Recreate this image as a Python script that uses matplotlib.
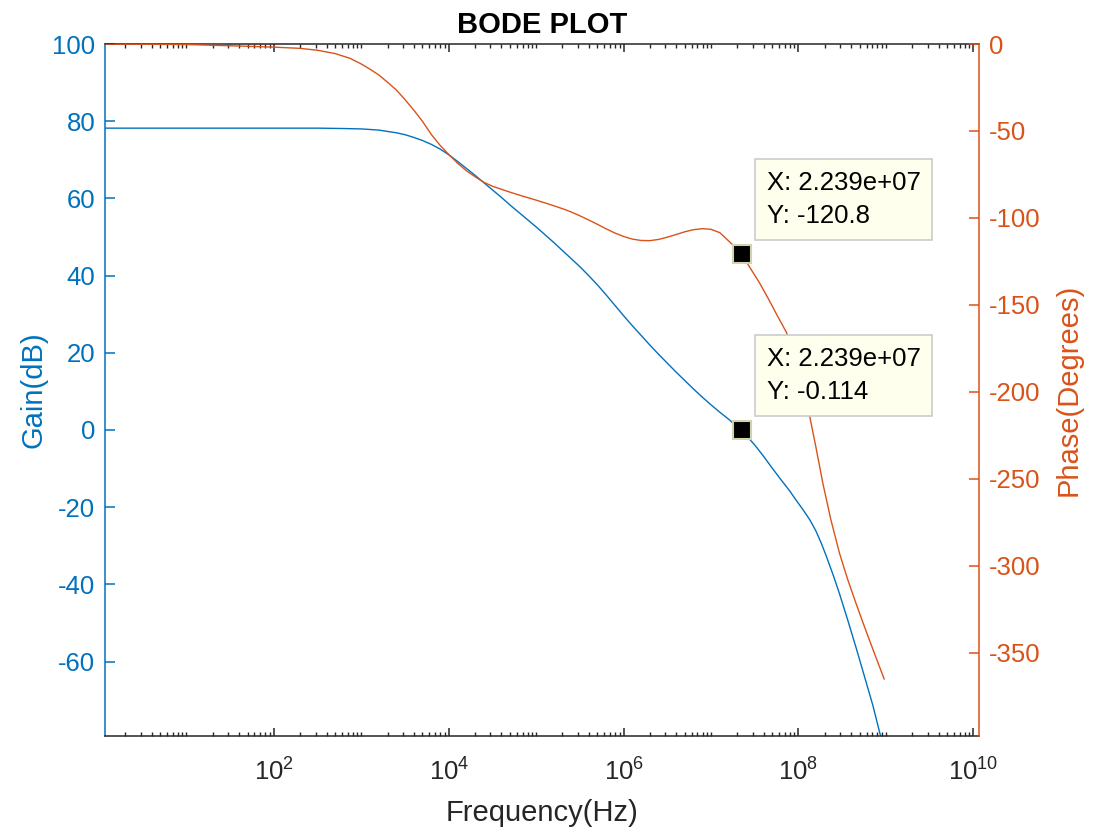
import numpy as np
import matplotlib
matplotlib.use('Agg')
import matplotlib.pyplot as plt
from matplotlib.ticker import LogLocator, NullFormatter

plt.rcParams['font.family'] = ['Liberation Sans', 'DejaVu Sans']
plt.rcParams['mathtext.default'] = 'regular'
plt.rcParams['axes.unicode_minus'] = False

# Gain curve (log10 of frequency in Hz, dB)
gain_exp = [0.0, 1.0, 2.0, 2.5, 2.8, 3.0, 3.2, 3.4, 3.5, 3.6, 3.7, 3.8, 3.9,
            4.0, 4.1, 4.2, 4.3, 4.4, 4.5, 4.6, 4.7, 4.8, 4.9, 5.0, 5.1, 5.2,
            5.3, 5.4, 5.5, 5.6, 5.7, 5.8, 5.9, 6.0, 6.1, 6.2, 6.3, 6.4, 6.5,
            6.6, 6.7, 6.8, 6.9, 7.0, 7.1, 7.2, 7.35, 7.5, 7.6, 7.7, 7.8, 7.9,
            7.97, 8.05, 8.13, 8.2, 8.26, 8.32, 8.4, 8.47, 8.56, 8.66, 8.75,
            8.85, 8.93, 9.0]
gain_db = [78.2, 78.2, 78.2, 78.2, 78.1, 78.0, 77.7, 77.0, 76.5, 75.8, 75.0, 74.0, 72.8,
           71.3, 69.6, 67.8, 66.0, 64.1, 62.2, 60.3, 58.3, 56.4, 54.5, 52.6, 50.6, 48.6,
           46.5, 44.4, 42.3, 40.0, 37.6, 35.0, 32.3, 29.6, 27.0, 24.5, 22.0, 19.6, 17.3,
           15.0, 12.8, 10.6, 8.5, 6.5, 4.6, 2.8, -0.114, -3.9, -6.8, -9.9, -12.9, -15.8,
           -18.1, -20.6, -23.3, -26.2, -29.3, -32.8, -37.8, -42.5, -49.0, -56.5, -63.5,
           -71.3, -78.5, -84.0]

# Phase curve (log10 of frequency in Hz, degrees)
phase_exp = [0.0, 1.0, 1.5, 2.0, 2.3, 2.5, 2.7, 2.87, 3.0, 3.1, 3.2, 3.3, 3.4,
             3.5, 3.6, 3.7, 3.8, 3.9, 4.0, 4.1, 4.2, 4.3, 4.4, 4.5, 4.6, 4.7,
             4.8, 4.9, 5.0, 5.1, 5.2, 5.3, 5.4, 5.5, 5.6, 5.7, 5.8, 5.9, 6.0,
             6.1, 6.2, 6.3, 6.4, 6.5, 6.6, 6.7, 6.8, 6.9, 7.0, 7.1, 7.2, 7.28,
             7.35, 7.44, 7.55, 7.65, 7.75, 7.86, 7.95, 8.05, 8.13, 8.2, 8.28,
             8.37, 8.47, 8.56, 8.66, 8.75, 8.85, 8.98]
phase_deg = [0.0, -0.3, -1.0, -1.8, -2.5, -3.6, -5.5, -8.2, -11.5, -14.5, -17.8, -22.0, -26.4,
             -32.0, -38.0, -44.5, -52.0, -58.2, -63.5, -68.5, -72.8, -76.3, -79.5, -81.8, -83.5, -85.2,
             -86.8, -88.3, -89.8, -91.4, -93.0, -94.7, -96.6, -98.8, -101.2, -103.7, -106.3, -108.7, -110.7,
             -112.2, -113.0, -113.1, -112.4, -111.1, -109.6, -108.0, -106.8, -106.2, -106.6, -108.5, -113.2, -117.0,
             -120.8, -128.2, -137.0, -146.0, -155.5, -165.6, -178.0, -197.0, -214.5, -232.0, -252.9,
             -273.5, -293.0, -307.5, -322.0, -334.5, -348.0, -365.2]

# data tips
tip_freq = 2.239e7
tip_gain = -0.114
tip_phase = -120.8

blue = '#0072BD'
orange = '#D95319'
dark = '#262626'

gain_f = 10 ** np.array(gain_exp)
phase_f = 10 ** np.array(phase_exp)

fig = plt.figure(figsize=(10.97, 8.32), dpi=100)
ax = fig.add_axes([0.0957, 0.1154, 0.797, 0.8317])
ax2 = ax.twinx()

ax.semilogx(gain_f, gain_db, color=blue, lw=1.0)
ax2.semilogx(phase_f, phase_deg, color=orange, lw=1.0)

ax.set_xlim(1.17, 1.17e10)
ax.set_ylim(-79.3, 100)
ax2.set_ylim(-398, 0)

ax.set_xticks([1e2, 1e4, 1e6, 1e8, 1e10])
ax.set_xticklabels(['$10^{2}$', '$10^{4}$', '$10^{6}$', '$10^{8}$', '$10^{10}$'])
ax.xaxis.set_minor_locator(LogLocator(base=10, subs=np.arange(1, 10), numticks=100))
ax.xaxis.set_minor_formatter(NullFormatter())
ax.set_yticks(np.arange(-60, 101, 20))
ax2.set_yticks(np.arange(-350, 1, 50))

ax.tick_params(axis='x', which='major', direction='in', top=True, length=6, width=1.1,
               colors=dark, labelsize=18.5, pad=16)
ax.tick_params(axis='x', which='minor', direction='in', top=True, length=3, width=1.0,
               colors=dark)
ax.tick_params(axis='y', direction='in', length=7, width=1.1, colors=blue,
               labelsize=18.5, pad=7)
ax2.tick_params(axis='y', direction='in', length=7, width=1.1, colors=orange,
                labelsize=18.5, pad=7)

for s in ['top', 'bottom']:
    ax.spines[s].set_color(dark)
    ax.spines[s].set_linewidth(1.1)
    ax2.spines[s].set_visible(False)
ax.spines['left'].set_color(blue)
ax.spines['left'].set_linewidth(1.1)
ax.spines['right'].set_visible(False)
ax2.spines['left'].set_visible(False)
ax2.spines['right'].set_color(orange)
ax2.spines['right'].set_linewidth(1.1)

ax.set_xlabel('Frequency(Hz)', fontsize=21, color=dark, labelpad=10)
ax.set_ylabel('Gain(dB)', fontsize=21, color=blue, labelpad=3)
ax2.set_ylabel('Phase(Degrees)', fontsize=21, color=orange, labelpad=10)
ax.set_title('BODE PLOT', fontsize=21, fontweight='bold', color='black', pad=8)

# data tip markers and boxes (on the top axes so they cover the curves)
ax.plot([tip_freq], [tip_gain], 's', color='black', ms=13, mec='#D2D2AC', mew=1.5, zorder=5)
ax2.plot([tip_freq], [tip_phase], 's', color='black', ms=13, mec='#D2D2AC', mew=1.5, zorder=5)

box = dict(boxstyle='square,pad=0.45', fc='#FFFFEE', ec='#CCCCCC', lw=1.2)
ax2.annotate(f'X: {tip_freq:.4g}\nY: {tip_phase:.4g}', xy=(tip_freq, tip_phase),
             xytext=(25, 26), textcoords='offset pixels', ha='left', va='bottom',
             fontsize=18.5, bbox=box, linespacing=1.5, zorder=6)
ax2.annotate(f'X: {tip_freq:.4g}\nY: {tip_gain:.4g}', xy=(tip_freq, tip_gain),
             xycoords=ax.transData, xytext=(25, 26), textcoords='offset pixels',
             ha='left', va='bottom', fontsize=18.5, bbox=box, linespacing=1.5, zorder=6)

fig.savefig('out.png', dpi=100)
